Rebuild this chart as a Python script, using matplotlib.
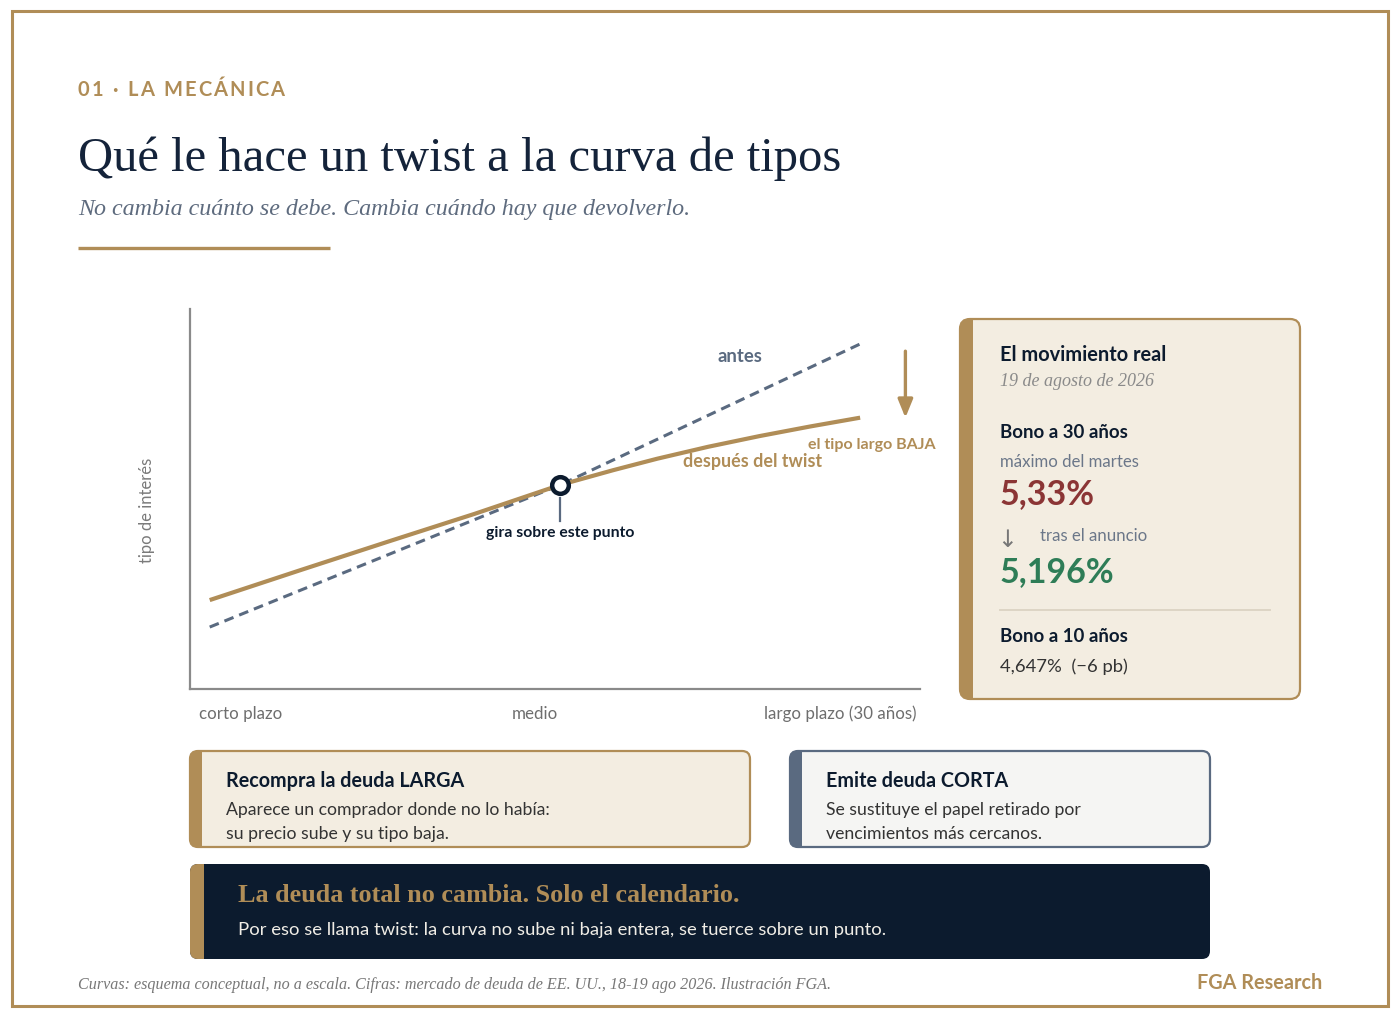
"""
Twist de la curva de tipos: esquema conceptual + panel con el movimiento real.
"""

import matplotlib
matplotlib.use('Agg')
import matplotlib.pyplot as plt
from matplotlib.patches import FancyBboxPatch, Rectangle

# ── Colours ───────────────────────────────────────────────────────────────────
GOLD  = '#b08d57'
NAVY  = '#0c1b2e'
SLATE = '#5a6a80'
CREAM = '#f3ede1'
GREY  = '#6e6e6e'
RED   = '#8b3535'
GREEN = '#2e7d57'

SANS  = ['Lato', 'DejaVu Sans']
SERIF = ['Liberation Serif', 'DejaVu Serif']

# ── Data (conceptual curves, arbitrary units 0-100) ──────────────────────────
antes_x = [2.7, 50.7, 91.8]
antes_y = [16.3, 53.7, 90.8]

despues_x = [2.7, 15, 27, 39, 50.7, 58, 64, 71, 78, 85, 91.8]
despues_y = [23.4, 31.2, 38.7, 46.1, 53.7, 57.6, 60.6, 63.75, 66.55, 69.1, 71.4]

pivot_x, pivot_y = 50.7, 53.7

x_tick_labels = ['corto plazo', 'medio', 'largo plazo (30 años)']

bono30_max  = '5,33%'
bono30_tras = '5,196%'
bono10      = '4,647%  (\u22126 pb)'

# ── Figure & background axes in pixel units ──────────────────────────────────
fig = plt.figure(figsize=(14, 10.2), dpi=100)
fig.patch.set_facecolor('white')
bg = fig.add_axes([0, 0, 1, 1])
bg.set_xlim(0, 1400)
bg.set_ylim(1020, 0)
bg.axis('off')

# page border
bg.add_patch(Rectangle((11.5, 11.5), 1376, 995, fill=False, ec=GOLD, lw=2.2))


def spaced_text(ax, x, y, s, spacing, **kw):
    """Draw text char by char with extra letter spacing (pixels)."""
    r = fig.canvas.get_renderer()
    for ch in s:
        t = ax.text(x, y, ch, va='center', ha='left', **kw)
        w = t.get_window_extent(renderer=r).width
        if ch == ' ':
            w = kw.get('fontsize', 12) * 0.35
        x += w + spacing


# ── Header ────────────────────────────────────────────────────────────────────
spaced_text(bg, 78, 89.5, '01 · LA MECÁNICA', 2.1, fontsize=14.5, color=GOLD,
            family=SANS, fontweight='bold')
bg.text(78, 159, 'Qué le hace un twist a la curva de tipos', fontsize=35,
        color='#14233a', family=SERIF, va='center', ha='left')
bg.text(78, 209.5, 'No cambia cuánto se debe. Cambia cuándo hay que devolverlo.',
        fontsize=17.3, color='#5e6b7e', family=SERIF, style='italic',
        va='center', ha='left')
bg.plot([78, 330], [249, 249], color=GOLD, lw=2.4, solid_capstyle='butt')

# ── Chart ─────────────────────────────────────────────────────────────────────
ax = fig.add_axes([190 / 1400, (1020 - 690) / 1020, 730 / 1400, 380 / 1020])
ax.set_xlim(0, 100)
ax.set_ylim(0, 100)
ax.patch.set_alpha(0)
for side in ['top', 'right']:
    ax.spines[side].set_visible(False)
for side in ['left', 'bottom']:
    ax.spines[side].set_color('#8a8a8a')
    ax.spines[side].set_linewidth(1.6)
ax.set_xticks([])
ax.set_yticks([])

ax.plot(antes_x, antes_y, color=SLATE, lw=2.2, dashes=(3.2, 2.0))
ax.plot(despues_x, despues_y, color=GOLD, lw=3, solid_capstyle='butt',
        solid_joinstyle='round')
ax.plot([pivot_x, pivot_x], [pivot_y - 3.5, pivot_y - 9.5], color=SLATE, lw=1.6)
ax.plot([pivot_x], [pivot_y], 'o', ms=12, mfc='white', mec=NAVY, mew=3.2, zorder=5)

ax.text(pivot_x, pivot_y - 12.5, 'gira sobre este punto', fontsize=11.3,
        fontweight='bold', color=NAVY, family=SANS, ha='center', va='center')
ax.text(75.4, 87.8, 'antes', fontsize=13.3, fontweight='bold', color=SLATE,
        family=SANS, ha='center', va='center')
ax.text(77, 60.2, 'después del twist', fontsize=12.9, fontweight='bold',
        color=GOLD, family=SANS, ha='center', va='center')
ax.text(84.6, 64.5, 'el tipo largo BAJA', fontsize=11.5, fontweight='bold',
        color=GOLD, family=SANS, ha='left', va='center', clip_on=False)
ax.annotate('', xy=(98, 71.4), xytext=(98, 88.9),
            arrowprops=dict(arrowstyle='-|>,head_length=1.1,head_width=0.45',
                            color=GOLD, lw=2.4, shrinkA=0, shrinkB=0),
            annotation_clip=False)

bg.text(199, 714, x_tick_labels[0], fontsize=12.2, color=GREY, family=SANS,
        ha='left', va='center')
bg.text(535, 714, x_tick_labels[1], fontsize=12.2, color=GREY, family=SANS,
        ha='center', va='center')
bg.text(916, 714, x_tick_labels[2], fontsize=12.2, color=GREY, family=SANS,
        ha='right', va='center')
bg.text(147, 510, 'tipo de interés', fontsize=12, color='#7a7a7a',
        family=SANS, rotation=90, ha='center', va='center')


def card(x, y, w, h, face, edge, bar_w, bar_color, radius=10, lw=1.6):
    box = FancyBboxPatch((x, y), w, h,
                         boxstyle=f'round,pad=0,rounding_size={radius}',
                         fc=face, ec=edge, lw=lw, zorder=1)
    bg.add_patch(box)
    bar = Rectangle((x - 2, y - 2), bar_w + 2, h + 4, fc=bar_color, ec='none',
                    zorder=2)
    bg.add_patch(bar)
    bar.set_clip_path(box)


# ── Right panel ───────────────────────────────────────────────────────────────
card(960, 320, 340, 380, CREAM, GOLD, 13, GOLD)
px = 1000
bg.text(px, 355, 'El movimiento real', fontsize=14.4, fontweight='bold',
        color=NAVY, family=SANS, va='center')
bg.text(px, 382, '19 de agosto de 2026', fontsize=13, style='italic',
        color='#8a8a8a', family=SERIF, va='center')
bg.text(px, 433, 'Bono a 30 años', fontsize=13.4, fontweight='bold',
        color=NAVY, family=SANS, va='center')
bg.text(px, 462, 'máximo del martes', fontsize=12.1, color='#6b7789',
        family=SANS, va='center')
bg.text(px, 494, bono30_max, fontsize=24.5, fontweight='bold', color=RED,
        family=SANS, va='center')
bg.text(1007, 540, '\u2193', fontsize=17, color='#777777', family=['DejaVu Sans'],
        va='center', ha='center')
bg.text(1040, 536, 'tras el anuncio', fontsize=12.1, color='#6b7789',
        family=SANS, va='center')
bg.text(px, 572, bono30_tras, fontsize=24.5, fontweight='bold', color=GREEN,
        family=SANS, va='center')
bg.plot([1000, 1270], [611, 611], color='#ddd5c5', lw=1.4)
bg.text(px, 637, 'Bono a 10 años', fontsize=13.4, fontweight='bold',
        color=NAVY, family=SANS, va='center')
bg.text(px, 667, bono10, fontsize=13.3, color='#333333', family=SANS,
        va='center')

# ── Bottom cards ──────────────────────────────────────────────────────────────
card(190, 752, 560, 96, CREAM, GOLD, 12, GOLD, radius=8)
bg.text(226, 781, 'Recompra la deuda LARGA', fontsize=14.2, fontweight='bold',
        color=NAVY, family=SANS, va='center')
bg.text(226, 810, 'Aparece un comprador donde no lo había:', fontsize=12.7,
        color='#333333', family=SANS, va='center')
bg.text(226, 834, 'su precio sube y su tipo baja.', fontsize=12.7,
        color='#333333', family=SANS, va='center')

card(790, 752, 420, 96, '#f5f5f3', SLATE, 12, SLATE, radius=8)
bg.text(826, 781, 'Emite deuda CORTA', fontsize=14.2, fontweight='bold',
        color=NAVY, family=SANS, va='center')
bg.text(826, 810, 'Se sustituye el papel retirado por', fontsize=12.7,
        color='#333333', family=SANS, va='center')
bg.text(826, 834, 'vencimientos más cercanos.', fontsize=12.7,
        color='#333333', family=SANS, va='center')

card(190, 865, 1020, 95, NAVY, NAVY, 14, GOLD, radius=8, lw=0)
bg.text(238, 896, 'La deuda total no cambia. Solo el calendario.', fontsize=18.8,
        fontweight='bold', color=GOLD, family=SERIF, va='center')
bg.text(238, 930, 'Por eso se llama twist: la curva no sube ni baja entera, '
        'se tuerce sobre un punto.', fontsize=13.3, color='#f0ede6',
        family=SANS, va='center')

# ── Footer ────────────────────────────────────────────────────────────────────
bg.text(78, 985, 'Curvas: esquema conceptual, no a escala. Cifras: mercado de '
        'deuda de EE. UU., 18-19 ago 2026. Ilustración FGA.', fontsize=11.6,
        style='italic', color='#777777', family=SERIF, va='center')
bg.text(1322, 983, 'FGA Research', fontsize=14.3, fontweight='bold', color=GOLD,
        family=SANS, va='center', ha='right')

fig.savefig('out.png', dpi=100, facecolor='white')
